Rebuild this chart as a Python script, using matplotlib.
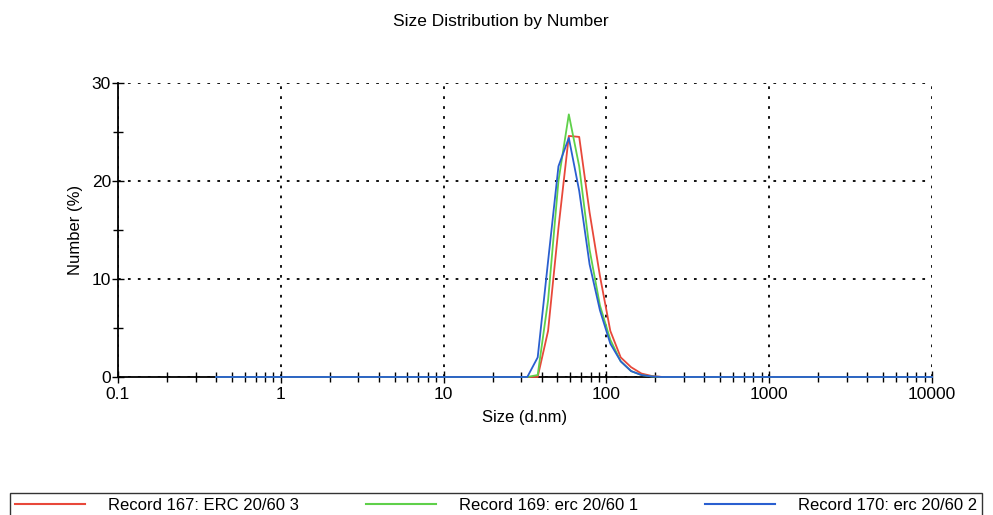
import matplotlib
matplotlib.use('Agg')
import matplotlib.pyplot as plt
from matplotlib.ticker import FixedLocator, NullFormatter

plt.rcParams['font.family'] = ['Liberation Sans', 'DejaVu Sans']

# size bins (d.nm), only the region around the peak plus the range ends
sizes = [0.4, 24.36, 28.21, 32.67, 37.84, 43.82, 50.75, 58.77, 68.06, 78.82,
         91.28, 105.7, 122.4, 141.8, 164.2, 190.1, 220.2, 255.0, 10000]

rec167 = [0, 0, 0, 0, 0, 4.7, 15.2, 24.6, 24.5, 16.8,
          10.3, 4.7, 2.0, 1.0, 0.35, 0.1, 0, 0, 0]
rec169 = [0, 0, 0, 0, 0.2, 7.8, 20.0, 26.8, 21.5, 13.0,
          7.3, 3.8, 1.6, 0.6, 0.2, 0.05, 0, 0, 0]
rec170 = [0, 0, 0, 0, 2.0, 11.8, 21.5, 24.4, 19.0, 11.5,
          6.8, 3.4, 1.6, 0.6, 0.2, 0.05, 0, 0, 0]

labels = ['Record 167: ERC 20/60 3', 'Record 169: erc 20/60 1', 'Record 170: erc 20/60 2']
colors = ['#e8483a', '#5fd04a', '#2a5fd0']

fig = plt.figure(figsize=(9.93, 5.15), dpi=100)
ax = fig.add_axes([0.1188, 0.268, 0.8198, 0.5708])

for vals, lab, c in zip([rec167, rec169, rec170], labels, colors):
    ax.plot(sizes, vals, color=c, lw=1.3, label=lab, zorder=3, clip_on=False)

ax.set_xscale('log')
ax.set_xlim(0.1, 10000)
ax.set_ylim(0, 30)
ax.set_xticks([0.1, 1, 10, 100, 1000, 10000])
ax.set_xticklabels(['0.1', '1', '10', '100', '1000', '10000'])
ax.xaxis.set_minor_locator(FixedLocator(
    [m * 10.0 ** e for e in range(-1, 4) for m in range(2, 10)]))
ax.xaxis.set_minor_formatter(NullFormatter())
ax.set_yticks([0, 10, 20, 30])
ax.yaxis.set_minor_locator(FixedLocator([5, 15, 25]))

ax.grid(True, which='major', color='black', linestyle=(0, (1.5, 4)), lw=1.3)
ax.tick_params(which='both', direction='inout', colors='black', labelsize=12.5)
ax.tick_params(which='major', length=8, width=1)
ax.tick_params(which='minor', length=7, width=1)
ax.tick_params(axis='x', pad=3)
ax.tick_params(axis='y', pad=1)

for s in ['top', 'right']:
    ax.spines[s].set_visible(False)
ax.spines['left'].set_linewidth(1.3)
ax.spines['bottom'].set_linewidth(1.3)

ax.set_xlabel('Size (d.nm)', fontsize=12, labelpad=6)
ax.set_ylabel('Number (%)', fontsize=12, labelpad=6)
fig.text(0.504, 0.958, 'Size Distribution by Number', ha='center', va='center', fontsize=12.5)

leg = fig.legend(loc='upper left', bbox_to_anchor=(10 / 993, 1 - 493 / 515, 972 / 993, 0),
                 mode='expand', ncol=3, fontsize=12, frameon=True, fancybox=False,
                 handlelength=4.2, borderaxespad=0, handletextpad=1.4, borderpad=0.3,
                 columnspacing=3.5)
leg.get_frame().set_edgecolor('black')
leg.get_frame().set_linewidth(1.0)
for h in leg.get_lines():
    h.set_linewidth(1.5)

plt.savefig('out.png', dpi=100)
plt.close('all')
